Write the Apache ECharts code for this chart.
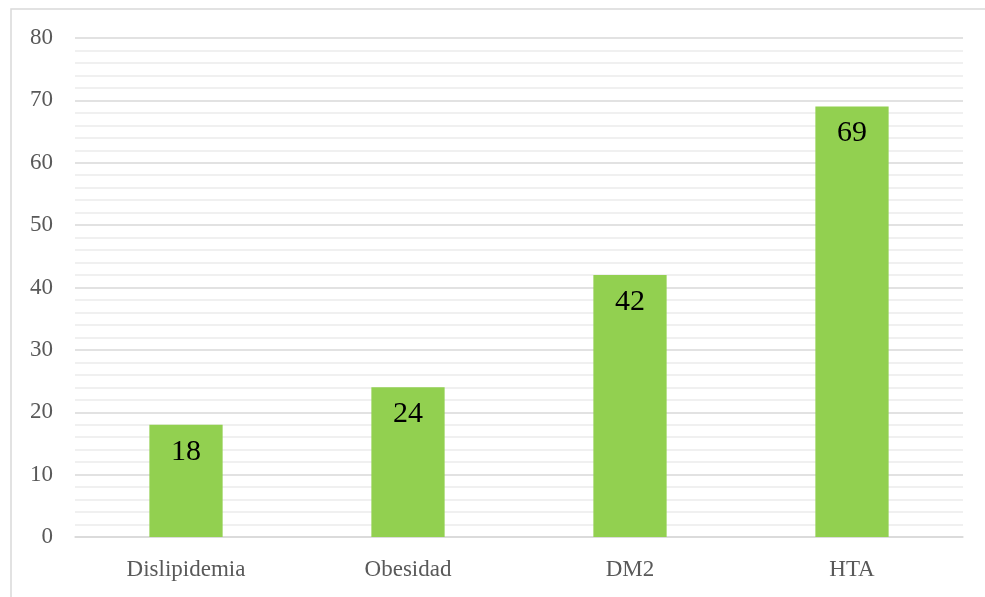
<!DOCTYPE html>
<html>
<head>
<meta charset="utf-8">
<script src="https://cdn.jsdelivr.net/npm/echarts@6/dist/echarts.min.js"></script>
<style>
  html, body { margin: 0; padding: 0; background: #ffffff; }
  #chart { width: 985px; height: 597px; }
</style>
</head>
<body>
<div id="chart"></div>
<script>
// Categories and values of the bar chart
const categories = ['Dislipidemia', 'Obesidad', 'DM2', 'HTA'];
const values = [18, 24, 42, 69];
const yTicks = [0, 10, 20, 30, 40, 50, 60, 70, 80];

const chart = echarts.init(document.getElementById('chart'));
const serif = '"Liberation Serif", "DejaVu Serif", serif';

chart.setOption({
  animation: false,
  backgroundColor: '#ffffff',
  graphic: [{
    type: 'rect',
    shape: { x: 11, y: 9, width: 990, height: 600 },
    style: { fill: 'none', stroke: '#d9d9d9', lineWidth: 1.5 },
    silent: true
  }],
  grid: { left: 75, right: 22, top: 38, bottom: 60, containLabel: false },
  xAxis: {
    type: 'category',
    data: categories,
    axisLine: { show: true, lineStyle: { color: '#d9d9d9', width: 1.5 } },
    axisTick: { show: false },
    axisLabel: { color: '#595959', fontFamily: serif, fontSize: 23, margin: 21 }
  },
  yAxis: {
    type: 'value',
    min: yTicks[0],
    max: yTicks[yTicks.length - 1],
    interval: 10,
    axisLine: { show: false },
    axisTick: { show: false },
    axisLabel: { color: '#595959', fontFamily: serif, fontSize: 23, margin: 22 },
    splitLine: { show: true, lineStyle: { color: '#d9d9d9', width: 1.5 } },
    minorTick: { show: false, splitNumber: 5 },
    minorSplitLine: { show: true, lineStyle: { color: '#ececec', width: 1.5 } }
  },
  series: [{
    type: 'bar',
    data: values,
    barWidth: '33%',
    itemStyle: { color: '#92d050' },
    label: {
      show: true,
      position: 'insideTop',
      distance: 12,
      color: '#000000',
      fontFamily: serif,
      fontSize: 30
    }
  }]
});
</script>
</body>
</html>
